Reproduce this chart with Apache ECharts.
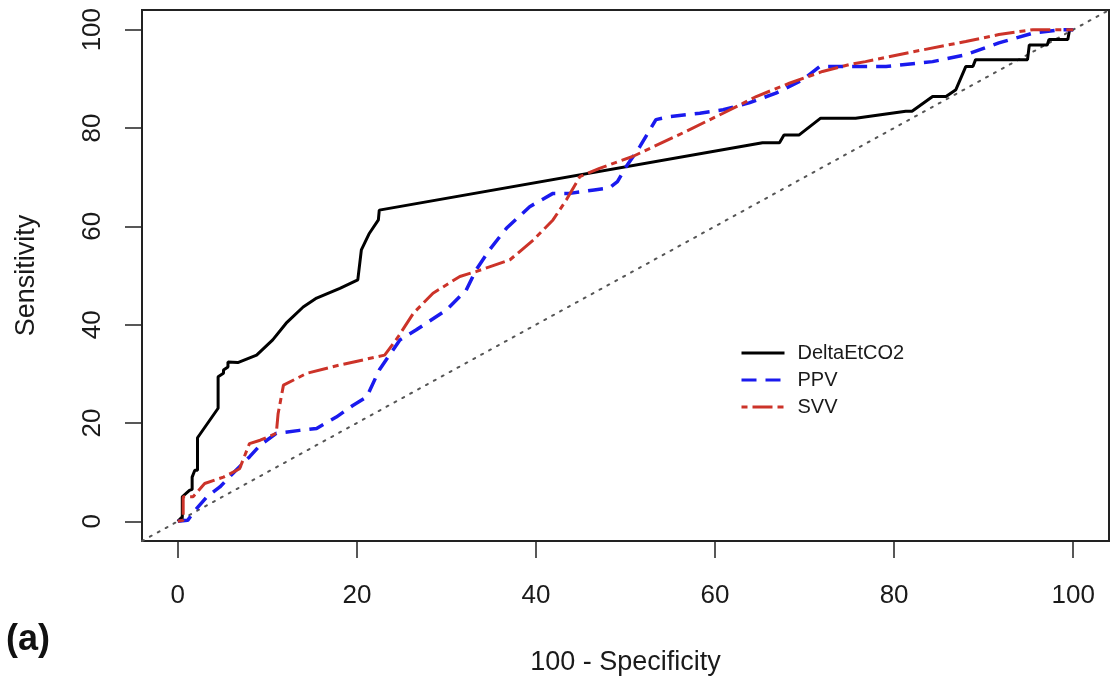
<!DOCTYPE html>
<html>
<head>
<meta charset="utf-8">
<script src="https://cdn.jsdelivr.net/npm/echarts@6/dist/echarts.min.js"></script>
<style>
html,body{margin:0;padding:0;background:#fff;}
#chart{width:1110px;height:681px;}
</style>
</head>
<body>
<div id="chart"></div>
<script>
// ---- Data (x = 100 - Specificity, y = Sensitivity) ----
const seriesNames = ['DeltaEtCO2', 'PPV', 'SVV'];
const tickValues = [0, 20, 40, 60, 80, 100];

const deltaX = [0, 0.5, 0.5, 1.3, 1.6, 1.6, 1.9, 2.2, 2.2, 4.5, 4.5, 5.1, 5.1, 5.6, 5.6, 6.7, 8.8, 10.6, 12.1, 14, 15.5, 18.1, 20.1, 20.5, 21.4, 22.4, 22.5, 65.3, 67.2, 67.7, 69.4, 71.8, 75.7, 81.3, 82, 84.3, 85.8, 86.9, 88, 88.8, 89.1, 94.9, 95.1, 97.1, 97.3, 99.4, 99.6, 100];
const deltaY = [0, 0.9, 5, 6.3, 6.5, 9, 10.4, 10.4, 17, 23, 29.4, 30.1, 30.8, 31.4, 32.4, 32.3, 33.8, 36.9, 40.3, 43.6, 45.4, 47.4, 49.1, 55.2, 58.6, 61.3, 63.3, 77, 77, 78.6, 78.6, 82, 82, 83.4, 83.4, 86.4, 86.4, 87.8, 92.5, 92.5, 93.9, 93.9, 96.9, 96.9, 98, 98, 100, 100];

const ppvX = [0, 1.1, 1.9, 3.2, 4.7, 6.5, 8, 9.2, 11, 13.6, 15.5, 17.7, 19.5, 21.1, 22.5, 24.8, 26.6, 30, 32.2, 33.3, 34.8, 36.7, 39.3, 41.9, 43.8, 46.5, 48.2, 49.1, 50.1, 51.6, 53.4, 54.9, 58.3, 60.9, 63.8, 66.8, 69.8, 71.7, 72.4, 76.8, 79.1, 84.3, 88, 91.7, 95.5, 98.8, 100];
const ppvY = [0, 0.2, 2.2, 4.9, 7, 10.4, 13.1, 15.5, 17.9, 18.5, 18.9, 21.2, 23.5, 25.3, 30.8, 36.9, 38.9, 43, 47, 51.1, 55.2, 59.6, 64, 66.7, 66.7, 67.4, 67.8, 69.1, 72.2, 76.2, 81.7, 82.3, 83, 83.7, 85.1, 87.1, 89.8, 92.5, 92.5, 92.5, 92.5, 93.5, 94.9, 97.3, 99.3, 100, 100];

const svvX = [0, 0.6, 0.6, 1.7, 3, 5.1, 6.9, 8, 9.2, 11, 11.2, 11.8, 14.4, 18.1, 23.1, 24.6, 26.3, 28.5, 31.5, 33.3, 37.1, 39.7, 41.9, 43.4, 44.9, 47.1, 50.8, 56.4, 60.9, 64.6, 68.3, 72, 75, 76.8, 82.4, 88, 91.7, 95.5, 100];
const svvY = [0, 0.2, 5, 5, 7.7, 9, 10.7, 15.8, 16.5, 17.9, 21.9, 27.7, 30.1, 31.8, 33.8, 37.5, 42.3, 46.4, 49.8, 50.8, 53.2, 57.2, 61.3, 65.4, 70.1, 71.8, 74.2, 79, 83, 86.4, 89.1, 91.5, 92.9, 93.5, 95.6, 97.6, 99, 100, 100];

const diagX = [-4, 104];
const diagY = [-4, 104];

function pairs(xs, ys) { return xs.map((x, i) => [x, ys[i]]); }

const FONT = "'Liberation Sans', Arial, Helvetica, sans-serif";
const TXT = '#1a1a1a';

const chart = echarts.init(document.getElementById('chart'), null, {renderer: 'canvas'});
chart.setOption({
  animation: false,
  backgroundColor: '#ffffff',
  grid: {
    left: 142, right: 1, top: 10, bottom: 140,
    show: true, borderColor: '#222', borderWidth: 2, backgroundColor: 'transparent'
  },
  xAxis: {
    type: 'value', min: -4, max: 104,
    name: '100 - Specificity', nameLocation: 'middle', nameGap: 108,
    nameTextStyle: {fontFamily: FONT, fontSize: 27, color: TXT},
    axisLine: {show: false, onZero: false},
    splitLine: {show: false},
    axisTick: {show: true, length: 17, inside: false, customValues: tickValues, lineStyle: {color: '#222', width: 1.5}},
    axisLabel: {customValues: tickValues, margin: 42, fontFamily: FONT, fontSize: 26, color: TXT}
  },
  yAxis: {
    type: 'value', min: -4, max: 104,
    name: 'Sensitivity', nameLocation: 'middle', nameGap: 102, nameRotate: 90,
    nameTextStyle: {fontFamily: FONT, fontSize: 27, color: TXT},
    axisLine: {show: false, onZero: false},
    splitLine: {show: false},
    axisTick: {show: true, length: 17, inside: false, customValues: tickValues, lineStyle: {color: '#222', width: 1.5}},
    axisLabel: {customValues: tickValues, rotate: 90, margin: 36, fontFamily: FONT, fontSize: 26, color: TXT}
  },
  legend: {
    data: seriesNames,
    orient: 'vertical', left: 735, top: 338,
    itemWidth: 43, itemHeight: 14, itemGap: 7,
    itemStyle: {opacity: 0},
    lineStyle: {width: 3},
    textStyle: {fontFamily: FONT, fontSize: 20, color: TXT, padding: [0, 0, 0, 8]}
  },
  graphic: [{
    type: 'text', left: 6, top: 622,
    style: {text: '(a)', font: "bold 36px 'Liberation Sans', Arial, sans-serif", fill: '#111'}
  }],
  series: [
    {
      name: 'diagonal', type: 'line', data: pairs(diagX, diagY), symbol: 'none', silent: true, z: 1,
      lineStyle: {color: '#555', width: 2, type: [2, 7], cap: 'round'}
    },
    {
      name: 'DeltaEtCO2', type: 'line', data: pairs(deltaX, deltaY), symbol: 'none', z: 2,
      itemStyle: {color: '#000000'},
      lineStyle: {color: '#000000', width: 3}
    },
    {
      name: 'PPV', type: 'line', data: pairs(ppvX, ppvY), symbol: 'none', z: 3,
      itemStyle: {color: '#1a1aee'},
      lineStyle: {color: '#1a1aee', width: 3.5, type: [15, 9]}
    },
    {
      name: 'SVV', type: 'line', data: pairs(svvX, svvY), symbol: 'none', z: 4,
      itemStyle: {color: '#cc3329'},
      lineStyle: {color: '#cc3329', width: 3, type: [6, 5, 20, 5]}
    }
  ]
});
</script>
</body>
</html>
